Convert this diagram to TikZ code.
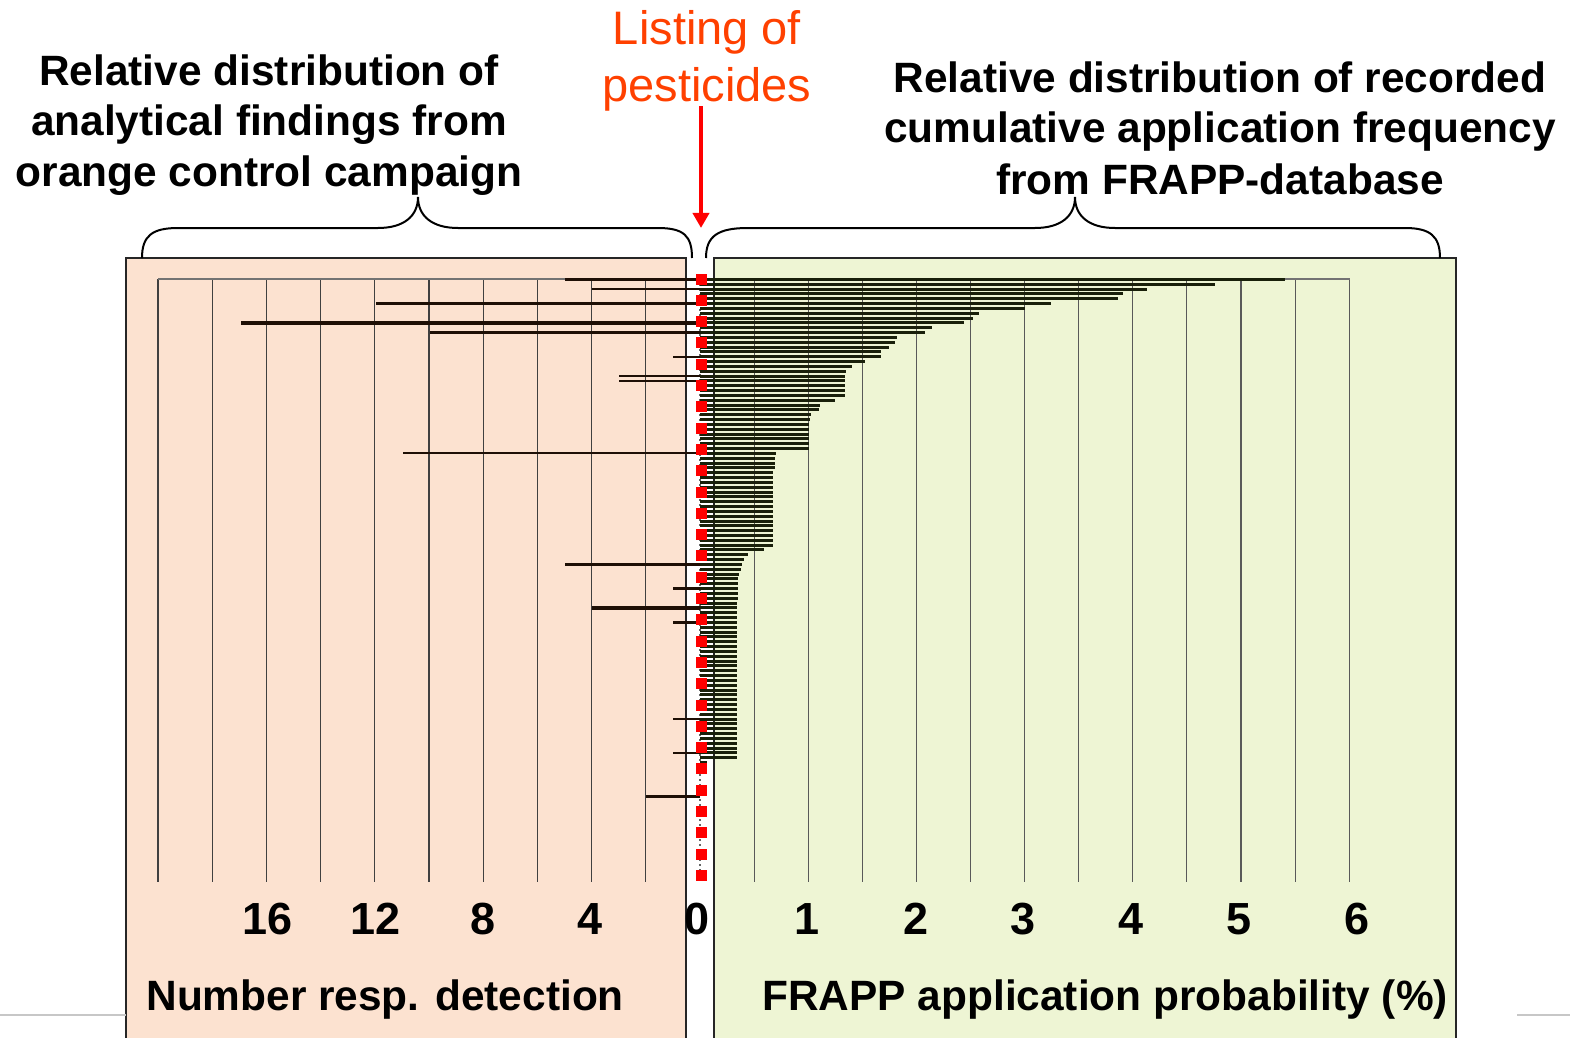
\documentclass[tikz,border=0pt]{standalone}
\usepackage{fontspec}
\setmainfont{Liberation Sans}
\usepackage{xcolor}
\usetikzlibrary{arrows.meta}
\definecolor{peach}{RGB}{252,226,208}
\definecolor{lime}{RGB}{238,245,212}
\definecolor{listred}{RGB}{255,64,0}
\definecolor{barleft}{RGB}{30,15,5}
\definecolor{barright}{RGB}{25,32,10}

\begin{document}
\begin{tikzpicture}[
		x=0.5pt, y=-0.5pt,
		declare function={rowy(\r)=279.5+(\r-1)*4.83;},
		panel/.style={draw=black!85, line width=1pt},
		gridline/.style={draw=black!75, line width=0.55pt},
		title/.style={anchor=base, align=center, inner sep=0pt,
			font=\fontsize{21.2}{25.5}\selectfont\bfseries},
		ticklabel/.style={anchor=base, inner sep=0pt,
			font=\fontsize{22.5}{26}\selectfont\bfseries},
		axislabel/.style={anchor=base west, inner sep=0pt,
			font=\fontsize{21.2}{25}\selectfont\bfseries},
		brace/.style={draw, line width=1pt},
		lbar/.style={draw=barleft, line width=1.15pt},
		rbar/.style={draw=barright, line width=1.5pt},
		marker/.style={fill=red, minimum size=5.5pt, inner sep=0pt},
		arrow/.style={-{Triangle[width=8pt,length=7.5pt]}, line width=2pt, red}
	]
	\useasboundingbox (0,0) rectangle (1570,1038);
	
	% panels
	\fill[peach] (126,258) rectangle (686,1038);
	\fill[lime] (714,258) rectangle (1455,1038);
	\draw[panel] (126,1040) -- (126,258) -- (686,258) -- (686,1040);
	\draw[panel] (714,1040) -- (714,258) -- (1456,258) -- (1456,1040);
	\draw[black!22, line width=1pt] (0,1015) -- (126,1015);
	\draw[black!22, line width=1pt] (1517,1015) -- (1570,1015);
	
	% grid
	\foreach \k in {0,...,9}
		\draw[gridline] ({158+54.2*\k},279) -- ++(0,603);
	\foreach \k in {1,...,12}
		\draw[gridline, draw=black!65] ({700+54.1*\k},279) -- ++(0,603);
	\draw[gridline, draw=black!55] (158,279) -- (1350,279);
	\draw[black!60, line width=0.6pt, dash pattern=on 1pt off 1.5pt] (700,279) -- (700,882);
	
	% FRAPP application probability (%)
	\foreach \v [count=\i] in {5.42,4.77,4.14,3.92,3.87,3.25,3.01,2.58,2.53,2.44,
			2.15,2.08,1.82,1.81,1.75,1.68,1.68,1.53,1.41,1.35,
			1.34,1.34,1.34,1.34,1.34,1.25,1.11,1.10,1.03,1.02,
			1.01,1.01,1.01,1.01,1.01,1.01,0.70,0.69,0.69,0.69,
			0.68,0.68,0.68,0.68,0.68,0.68,0.68,0.68,0.68,0.68,
			0.68,0.68,0.68,0.68,0.68,0.68,0.59,0.44,0.41,0.39,
			0.38,0.36,0.35,0.35,0.35,0.35,0.35}
		\draw[rbar] (700,{rowy(\i)}) -- ++({108*\v},0);
	\foreach \i in {68,...,100}
		\draw[rbar] (700,{rowy(\i)}) -- ++({108*0.34},0);
	\draw[rbar] (700,{rowy(101)}) -- ++(7,0);
	
	% number of detections
	\foreach \r/\n/\w in {1/5/1.15, 3/4/1.05, 6/12/1.7, 10/17/1.9, 12/10/1.2,
			17/1/1.15, 21/3/1.2, 22/3/1.2, 37/11/1.1, 60/5/1.1,
			65/1/1.7, 69/4/1.7, 72/1/1.7, 92/1/1.1, 99/1/1.1, 108/2/1.3}
		\draw[lbar, line width=\w pt] (700,{rowy(\r)}) -- ++({-27*\n},0);
	
	% pesticide markers
	\foreach \k in {0,...,28}
		\node[marker] (m\k) at (701,{279+21.3*\k}) {};
	
	% braces
	\draw[brace] (142,258) .. controls (142,236) and (152,228) .. (178,228)
		-- (378,228) .. controls (404,228) and (418,216) .. (418,197)
		.. controls (418,216) and (432,228) .. (458,228)
		-- (658,228) .. controls (684,228) and (692,236) .. (692,258);
	\draw[brace] (706,258) .. controls (706,236) and (718,228) .. (748,228)
		-- (1035,228) .. controls (1061,228) and (1075,216) .. (1075,197)
		.. controls (1075,216) and (1089,228) .. (1115,228)
		-- (1405,228) .. controls (1430,228) and (1440,236) .. (1440,258);
	
	% titles (base = last line)
	\node[title] (lefttitle) at (269,187)
		{Relative distribution of\\analytical findings from\\orange control campaign};
	\node[title] (righttitle) at (1220,194)
		{Relative distribution of recorded\\cumulative application frequency\\from FRAPP-database};
	\node[title, font=\fontsize{23.5}{28.5}\selectfont, text=listred] (listing) at (707,102)
		{Listing of\\pesticides};
	\coordinate (listtip) at (701,228);
	\draw[arrow, shorten <=-3pt] (listing.south -| listtip) -- (listtip);
	
	% tick labels
	\foreach \t/\x in {16/268, 12/376, 8/483, 4/590, 0/697}
		\node[ticklabel] (lt\t) at (\x,934) {\t};
	\foreach \t/\x in {1/807, 2/916, 3/1023, 4/1131, 5/1239, 6/1357}
		\node[ticklabel] (rt\t) at (\x,934) {\t};
	
	% axis labels
	\node[axislabel] (leftlabel) at (146,1010) {Number resp. detection};
	\node[axislabel] (rightlabel) at (762,1010) {FRAPP application probability (\%)};
\end{tikzpicture}
\end{document}
